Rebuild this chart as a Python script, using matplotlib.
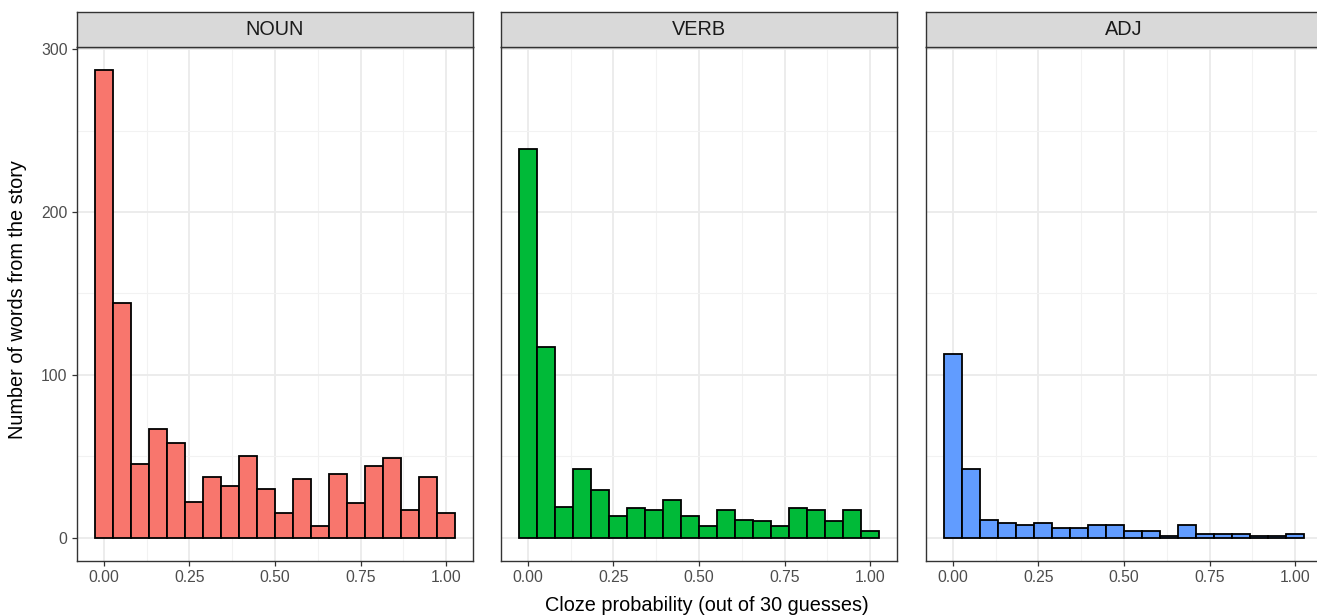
import numpy as np
import matplotlib
matplotlib.use("Agg")
import matplotlib.pyplot as plt

plt.rcParams['font.family'] = ['Liberation Sans', 'DejaVu Sans']

# 20 bins of width 1/19, centred on 0, 1/19, ..., 1 (cloze out of 30 guesses)
n_bins = 20
panels = ["NOUN", "VERB", "ADJ"]
noun_counts = [287, 144, 45, 67, 58, 22, 37, 32, 50, 30, 15, 36, 7, 39, 21, 44, 49, 17, 37, 15]
verb_counts = [239, 117, 19, 42, 29, 13, 18, 17, 23, 13, 7, 17, 11, 10, 7, 18, 17, 10, 17, 4]
adj_counts = [113, 42, 11, 9, 8, 9, 6, 6, 8, 8, 4, 4, 1, 8, 2, 2, 2, 1, 1, 2]
fill_colors = ["#F8766D", "#00BA38", "#619CFF"]
x_ticks = [0.0, 0.25, 0.5, 0.75, 1.0]
y_ticks = [0, 100, 200, 300]

W, H = 1317, 616
fig = plt.figure(figsize=(W / 100, H / 100), dpi=100)

width = 1.0 / (n_bins - 1)
centers = np.arange(n_bins) * width
xlim = (-width / 2 - 0.0526, 1 + width / 2 + 0.0526)
ymax = max(noun_counts)
ylim = (-0.05 * ymax, 1.05 * ymax)

panel_left = [77, 501, 926]
panel_w = 396
panel_top, panel_bot = 47, 561
strip_top = 12

for i, (name, counts, col) in enumerate(zip(panels, [noun_counts, verb_counts, adj_counts], fill_colors)):
    ax = fig.add_axes([panel_left[i] / W, (H - panel_bot) / H,
                       panel_w / W, (panel_bot - panel_top) / H])
    ax.bar(centers, counts, width=width, color=col, edgecolor="black", linewidth=1.3, zorder=3)
    ax.set_xlim(*xlim)
    ax.set_ylim(*ylim)

    ax.set_xticks(x_ticks)
    ax.set_xticklabels([f"{t:.2f}" for t in x_ticks])
    ax.set_xticks(np.arange(0.125, 1.0, 0.25), minor=True)
    ax.set_yticks(y_ticks)
    ax.set_yticks([50, 150, 250], minor=True)
    ax.grid(which="major", color="#EBEBEB", linewidth=1.3, zorder=0)
    ax.grid(which="minor", color="#F2F2F2", linewidth=0.8, zorder=0)
    ax.set_axisbelow(True)

    ax.tick_params(which="major", length=3.8, width=0.9, color="#333333",
                   labelsize=11.3, labelcolor="#4D4D4D", pad=3)
    ax.tick_params(which="minor", length=0)
    if i > 0:
        ax.tick_params(axis="y", which="both", left=False, labelleft=False)
    for sp in ax.spines.values():
        sp.set_color("#333333")
        sp.set_linewidth(1.0)

    # facet strip
    sax = fig.add_axes([panel_left[i] / W, (H - panel_top) / H,
                        panel_w / W, (panel_top - strip_top) / H])
    sax.set_facecolor("#D9D9D9")
    sax.set_xticks([])
    sax.set_yticks([])
    for sp in sax.spines.values():
        sp.set_color("#333333")
        sp.set_linewidth(1.0)
    sax.text(0.5, 0.5, name, ha="center", va="center", fontsize=14.3, color="#1A1A1A",
             transform=sax.transAxes)

fig.text(707 / W, (H - 611) / H, "Cloze probability (out of 30 guesses)",
         ha="center", va="baseline", fontsize=14.3)
fig.text(18 / W, (H - 300) / H, "Number of words from the story",
         ha="center", va="center", rotation=90, fontsize=14.3)

fig.savefig("out.png", dpi=100)
